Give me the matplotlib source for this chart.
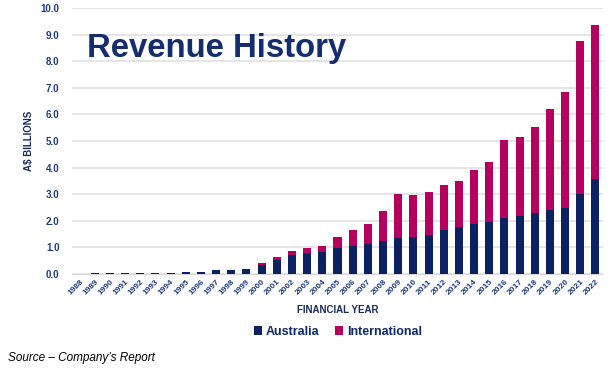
import matplotlib
matplotlib.use('Agg')
import matplotlib.pyplot as plt
import numpy as np

years = [str(y) for y in range(1988, 2023)]
australia = [0.01, 0.02, 0.03, 0.03, 0.03, 0.03, 0.04, 0.06, 0.09, 0.15, 0.15, 0.19,
             0.33, 0.51, 0.70, 0.78, 0.84, 0.99, 1.06, 1.14, 1.25, 1.36, 1.40, 1.48,
             1.67, 1.78, 1.87, 1.97, 2.12, 2.17, 2.29, 2.42, 2.49, 3.00, 3.58]
total = [0.01, 0.02, 0.03, 0.03, 0.03, 0.03, 0.04, 0.06, 0.09, 0.15, 0.15, 0.19,
         0.40, 0.64, 0.86, 0.98, 1.05, 1.38, 1.65, 1.88, 2.37, 3.00, 2.98, 3.08,
         3.35, 3.48, 3.91, 4.20, 5.05, 5.14, 5.54, 6.19, 6.84, 8.75, 9.35]
international = [t - a for t, a in zip(total, australia)]

navy = '#0b2161'
magenta = '#b5005f'
label_col = '#1f3a7a'

plt.rcParams['font.family'] = ['Liberation Sans', 'DejaVu Sans']

fig = plt.figure(figsize=(6.12, 3.70), dpi=100)
ax = fig.add_axes([72 / 612, 1 - 274 / 370, 531 / 612, 266 / 370])

x = np.arange(len(years))
ax.bar(x, australia, width=0.53, color=navy, label='Australia', zorder=3)
ax.bar(x, international, width=0.53, bottom=australia, color=magenta,
       label='International', zorder=3)

ax.set_xlim(-0.5, len(years) - 0.5)
ax.set_ylim(0, 10)
ax.set_yticks(np.arange(0, 11, 1))
ax.set_yticklabels(['%.1f' % v for v in np.arange(0, 11, 1)], fontsize=7,
                   fontweight='bold', color=label_col)
ax.set_xticks(x)
ax.set_xticklabels(years, rotation=45, ha='right', rotation_mode='anchor',
                   fontsize=6, fontweight='bold', color=label_col)
ax.tick_params(axis='both', length=0, pad=3)
ax.tick_params(axis='y', pad=9)
ax.grid(axis='y', color='#e3e3e3', linewidth=1.3, zorder=0)
for s in ['top', 'right', 'left']:
    ax.spines[s].set_visible(False)
ax.spines['bottom'].set_color('#d9d9d9')

ax.set_ylabel('A$ BILLIONS', fontsize=7, fontweight='bold', color='#1a2a5a',
              labelpad=5)
ax.set_xlabel('FINANCIAL YEAR', fontsize=7, fontweight='bold', color='#1a2a5a',
              labelpad=6)

fig.text(87 / 612, 1 - 48 / 370, 'Revenue History', fontsize=23.7,
         fontweight='bold', color='#142d6e', va='center', ha='left')

leg = fig.legend(loc='center', bbox_to_anchor=(338 / 612, 1 - 332 / 370), ncol=2,
                 frameon=False, fontsize=9, handlelength=0.65, handleheight=0.65,
                 handletextpad=0.3, columnspacing=1.2)
for t in leg.get_texts():
    t.set_fontweight('bold')
    t.set_color('#0e2a6b')

fig.text(8 / 612, 1 - 358 / 370, 'Source \u2013 Company\u2019s Report', fontsize=8.5,
         style='italic', color='black', va='center', ha='left')

fig.savefig('out.png', dpi=100, facecolor='white')
